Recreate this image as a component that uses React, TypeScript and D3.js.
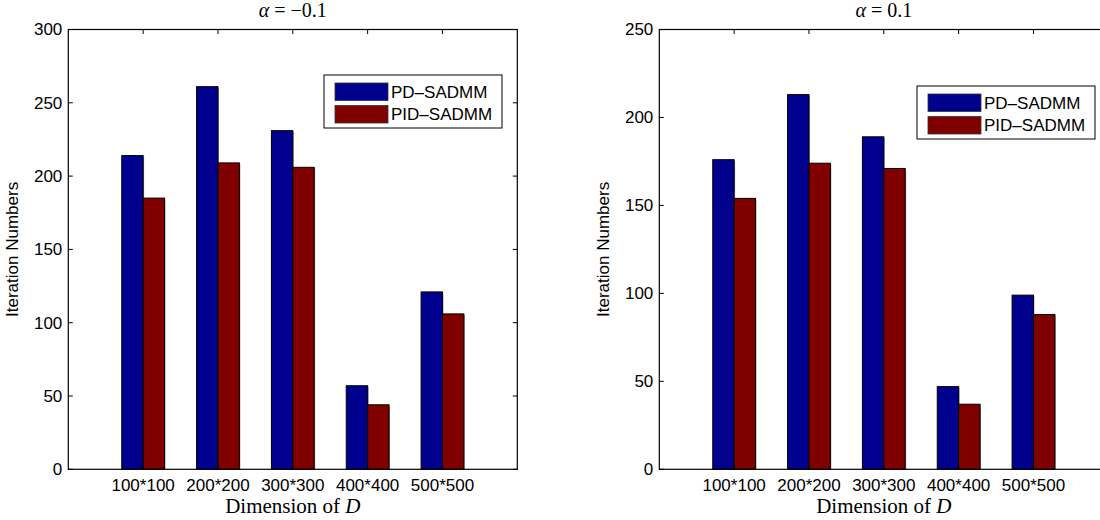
import React from "react";
import * as d3 from "d3";

const categories = ["100*100", "200*200", "300*300", "400*400", "500*500"];
const seriesNames = ["PD-SADMM", "PID-SADMM"];
const leftPD = [214, 261, 231, 57, 121];
const leftPID = [185, 209, 206, 44, 106];
const rightPD = [176, 213, 189, 47, 99];
const rightPID = [154, 174, 171, 37, 88];
const leftTicks = [0, 50, 100, 150, 200, 250, 300];
const rightTicks = [0, 50, 100, 150, 200, 250];
const colors = ["#00008F", "#800000"];

const SANS = "'Liberation Sans', Arial, Helvetica, sans-serif";
const SERIF = "'Liberation Serif', 'Times New Roman', serif";

type PanelProps = {
  x0: number;
  x1: number;
  yTop: number;
  yBot: number;
  yMax: number;
  ticks: number[];
  series: number[][];
  alpha: string;
  legendX: number;
  legendY: number;
};

function Panel(p: PanelProps) {
  const x = d3.scaleLinear().domain([0, 6]).range([p.x0, p.x1]);
  const y = d3.scaleLinear().domain([0, p.yMax]).range([p.yBot, p.yTop]);
  const gw = 2 / 3.5;
  const bw = gw / 2;
  const tl = 4.5;
  const cx = (p.x0 + p.x1) / 2;
  const cy = (p.yTop + p.yBot) / 2;
  const lw = 178;
  const lh = 53;
  return (
    <g>
      {/* bars */}
      {p.series.map((vals, s) =>
        vals.map((v, i) => {
          const xl = x(i + 1 - gw / 2 + s * bw);
          const xr = x(i + 1 - gw / 2 + (s + 1) * bw);
          return (
            <g key={`b${s}-${i}`}>
              <rect x={xl + 1} y={y(v) + 1} width={xr - xl} height={y(0) - y(v) - 1} fill="#9a9a9a" />
              <rect x={xl} y={y(v)} width={xr - xl} height={y(0) - y(v)} fill={colors[s]} stroke="#000" strokeWidth={1} />
            </g>
          );
        })
      )}
      {/* box */}
      <rect x={p.x0} y={p.yTop} width={p.x1 - p.x0} height={p.yBot - p.yTop} fill="none" stroke="#000" strokeWidth={1.2} />
      {/* y ticks */}
      {p.ticks.map((t) => (
        <g key={`yt${t}`}>
          <line x1={p.x0} x2={p.x0 + tl} y1={y(t)} y2={y(t)} stroke="#000" />
          <line x1={p.x1} x2={p.x1 - tl} y1={y(t)} y2={y(t)} stroke="#000" />
          <text x={p.x0 - 6} y={y(t)} dy="0.35em" textAnchor="end" fontFamily={SANS} fontSize={17} fill="#000">
            {t}
          </text>
        </g>
      ))}
      {/* x ticks */}
      {categories.map((c, i) => (
        <g key={`xt${i}`}>
          <line x1={x(i + 1)} x2={x(i + 1)} y1={p.yTop} y2={p.yTop + tl} stroke="#000" />
          <line x1={x(i + 1)} x2={x(i + 1)} y1={p.yBot} y2={p.yBot - tl} stroke="#000" />
          <text x={x(i + 1)} y={491} textAnchor="middle" fontFamily={SANS} fontSize={17} fill="#000">
            {c}
          </text>
        </g>
      ))}
      {/* labels */}
      <text
        transform={`translate(${p.x0 - 50},${cy}) rotate(-90)`}
        textAnchor="middle"
        fontFamily={SANS}
        fontSize={17}
        fill="#000"
      >
        Iteration Numbers
      </text>
      <text x={cx} y={513} textAnchor="middle" fontFamily={SERIF} fontSize={21} fill="#000">
        Dimension of <tspan fontStyle="italic">D</tspan>
      </text>
      <text x={cx} y={17} textAnchor="middle" fontFamily={SERIF} fontSize={20} fill="#000">
        <tspan fontStyle="italic">α</tspan>
        {" = " + p.alpha}
      </text>
      {/* legend */}
      <g transform={`translate(${p.legendX},${p.legendY})`}>
        <rect x={0} y={0} width={lw} height={lh} fill="#fff" stroke="#000" strokeWidth={1} />
        {seriesNames.map((n, s) => (
          <g key={n}>
            <rect x={11} y={8 + s * 22.5} width={53} height={17.5} fill={colors[s]} stroke="#333" strokeWidth={0.8} />
            <text x={67} y={17 + s * 22.5} dy="0.35em" fontFamily={SANS} fontSize={17} fill="#000">
              {n.replace("-", "\u2013")}
            </text>
          </g>
        ))}
      </g>
    </g>
  );
}

export default function App() {
  return (
    <svg
      width={1100}
      height={520}
      style={{ position: "absolute", left: 0, top: 0, background: "#fff" }}
    >
      <rect x={0} y={0} width={1100} height={520} fill="#fff" />
      <Panel
        x0={68.3}
        x1={517.3}
        yTop={29.5}
        yBot={469.3}
        yMax={300}
        ticks={leftTicks}
        series={[leftPD, leftPID]}
        alpha={"\u22120.1"}
        legendX={324}
        legendY={75}
      />
      <Panel
        x0={659.3}
        x1={1108.3}
        yTop={29.5}
        yBot={469.3}
        yMax={250}
        ticks={rightTicks}
        series={[rightPD, rightPID]}
        alpha={"0.1"}
        legendX={917}
        legendY={86}
      />
    </svg>
  );
}
